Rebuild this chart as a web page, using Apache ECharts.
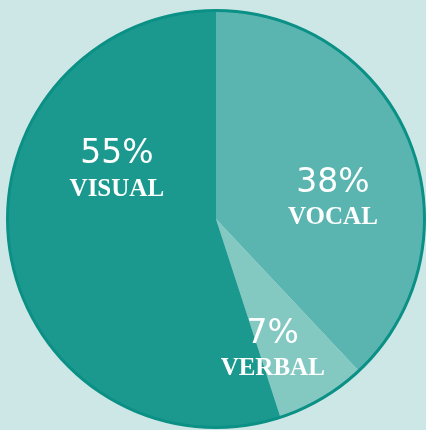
<!DOCTYPE html>
<html><head><meta charset="utf-8">
<script src="https://cdn.jsdelivr.net/npm/echarts@6/dist/echarts.min.js"></script>
<style>html,body{margin:0;padding:0;background:#cde7e6;}#c{width:426px;height:430px;}</style>
</head><body><div id="c"></div>
<script>
const categories = ['VOCAL', 'VERBAL', 'VISUAL'];
const values = [38, 7, 55];
const colors = ['#5ab5b1', '#84c8c2', '#1b998f'];
const labelOffsets = [[17, 17], [2, 36], [7, -68]];

const chart = echarts.init(document.getElementById('c'), null, {renderer: 'canvas'});
chart.setOption({
  backgroundColor: '#cde7e6',
  animation: false,
  series: [{
    type: 'pie',
    center: [216, 219],
    radius: [0, 209],
    startAngle: 90,
    clockwise: true,
    silent: true,
    data: categories.map((c, i) => ({
      name: c, value: values[i],
      itemStyle: {color: colors[i]},
      label: {offset: labelOffsets[i]}
    })),
    itemStyle: {borderWidth: 0},
    labelLine: {show: false},
    label: {
      show: true,
      position: 'inside',
      formatter: '{p|{c}%}\n{n|{b}}',
      rich: {
        p: {fontFamily: 'DejaVu Sans', fontSize: 33, color: '#ffffff', lineHeight: 43, align: 'center'},
        n: {fontFamily: 'Liberation Serif', fontWeight: 'bold', fontSize: 25, color: '#ffffff', lineHeight: 26, align: 'center'}
      }
    }
  }, {
    type: 'pie',
    center: [216, 219],
    radius: [207, 210],
    silent: true,
    label: {show: false},
    labelLine: {show: false},
    data: [{value: 1, name: 'ring', itemStyle: {color: '#0b9086'}}]
  }]
});
</script></body></html>
